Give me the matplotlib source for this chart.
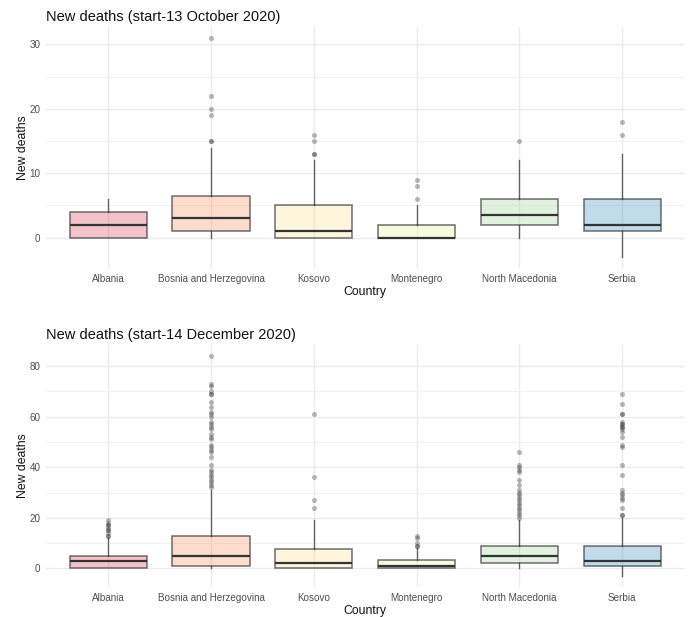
import matplotlib
matplotlib.use("Agg")
import matplotlib.pyplot as plt
from matplotlib.colors import to_rgba

plt.rcParams["font.family"] = ["Liberation Sans", "DejaVu Sans"]

countries = ["Albania", "Bosnia and Herzegovina", "Kosovo", "Montenegro",
             "North Macedonia", "Serbia"]
fill_colors = ["#D53E4F", "#FC8D59", "#FEE08B", "#E6F598", "#99D594", "#3288BD"]

# Period 1: start - 13 October 2020
oct_lo = [0, 0, 0, 0, 0, -3]
oct_q1 = [0, 1, 0, 0, 2, 1]
oct_med = [2, 3, 1, 0, 3.5, 2]
oct_q3 = [4, 6.5, 5, 2, 6, 6]
oct_hi = [6, 14, 12, 5, 12, 13]
oct_out = [
    [],
    [15, 15, 19, 20, 22, 31],
    [13, 13, 15, 16],
    [6, 8, 9],
    [15],
    [16, 18],
]

# Period 2: start - 14 December 2020
dec_lo = [0, 0, 0, 0, 0, -3]
dec_q1 = [0, 1, 0, 0, 2, 1]
dec_med = [3, 5, 2, 1, 5, 3]
dec_q3 = [5, 13, 7.75, 3.5, 9, 8.75]
dec_hi = [12, 31, 19, 8, 19, 20]
dec_out = [
    [13, 13, 14, 15, 15, 16, 17, 17, 18, 19],
    [32, 33, 34, 35, 36, 37, 38, 39, 41, 44, 46, 47, 48, 49, 51, 52, 53,
     55, 56, 57, 58, 60, 61, 62, 64, 66, 69, 69, 70, 72, 73, 84],
    [24, 27, 36, 61],
    [9, 9, 10, 12, 13],
    [20, 21, 22, 23, 24, 25, 26, 27, 28, 29, 30, 31, 33, 35, 38, 39, 40, 41, 46],
    [21, 21, 24, 27, 28, 29, 30, 31, 37, 41, 48, 49, 52, 54, 55, 56, 56,
     57, 57, 58, 61, 61, 65, 69],
]

W, H = 688, 617
fig = plt.figure(figsize=(W / 100, H / 100), dpi=100)
fig.patch.set_facecolor("white")


def panel(rect, title, lo, q1, med, q3, hi, out, ylim, yticks, yminor):
    ax = fig.add_axes(rect)
    stats = []
    for i in range(len(countries)):
        stats.append(dict(whislo=lo[i], q1=q1[i], med=med[i], q3=q3[i],
                          whishi=hi[i], fliers=out[i], label=countries[i]))
    pos = list(range(1, len(countries) + 1))
    bp = ax.bxp(stats, positions=pos, widths=0.75, patch_artist=True,
                showcaps=False, zorder=3,
                boxprops=dict(edgecolor=(0.2, 0.2, 0.2, 0.7), linewidth=1.1),
                medianprops=dict(color="#333333", linewidth=1.6),
                whiskerprops=dict(color=(0.2, 0.2, 0.2, 0.75), linewidth=1.0),
                flierprops=dict(marker="o", markersize=3.6,
                                markerfacecolor=(0.2, 0.2, 0.2, 0.35),
                                markeredgecolor="none"))
    for patch, c in zip(bp["boxes"], fill_colors):
        patch.set_facecolor(to_rgba(c, 0.3))
    ax.set_xlim(0.4, len(countries) + 0.6)
    ax.set_ylim(*ylim)
    ax.set_yticks(yticks)
    ax.set_yticks(yminor, minor=True)
    ax.set_xticks(pos)
    ax.set_xticklabels(countries)
    ax.grid(True, which="major", color="#EBEBEB", linewidth=1.0, zorder=0)
    ax.grid(True, which="minor", axis="y", color="#F2F2F2", linewidth=0.8, zorder=0)
    ax.set_axisbelow(True)
    for s in ax.spines.values():
        s.set_visible(False)
    ax.tick_params(which="both", length=0, labelsize=7.1, colors="#4D4D4D", pad=4.3)
    ax.set_title(title, loc="left", fontsize=10.5, color="#111111", pad=4)
    ax.set_ylabel("New deaths", fontsize=8.8, color="#111111", labelpad=0.5)
    ax.set_xlabel("Country", fontsize=8.8, color="#111111", labelpad=1.5)
    return ax


panel([46.4 / W, 1 - 268 / H, (684 - 46.4) / W, (268 - 27) / H],
      "New deaths (start-13 October 2020)",
      oct_lo, oct_q1, oct_med, oct_q3, oct_hi, oct_out,
      (-4.7, 32.7), [0, 10, 20, 30], [5, 15, 25])

panel([46.4 / W, 1 - 587 / H, (684 - 46.4) / W, (587 - 345) / H],
      "New deaths (start-14 December 2020)",
      dec_lo, dec_q1, dec_med, dec_q3, dec_hi, dec_out,
      (-7.35, 88.35), [0, 20, 40, 60, 80], [10, 30, 50, 70])

fig.savefig("out.png", dpi=100, facecolor="white")
